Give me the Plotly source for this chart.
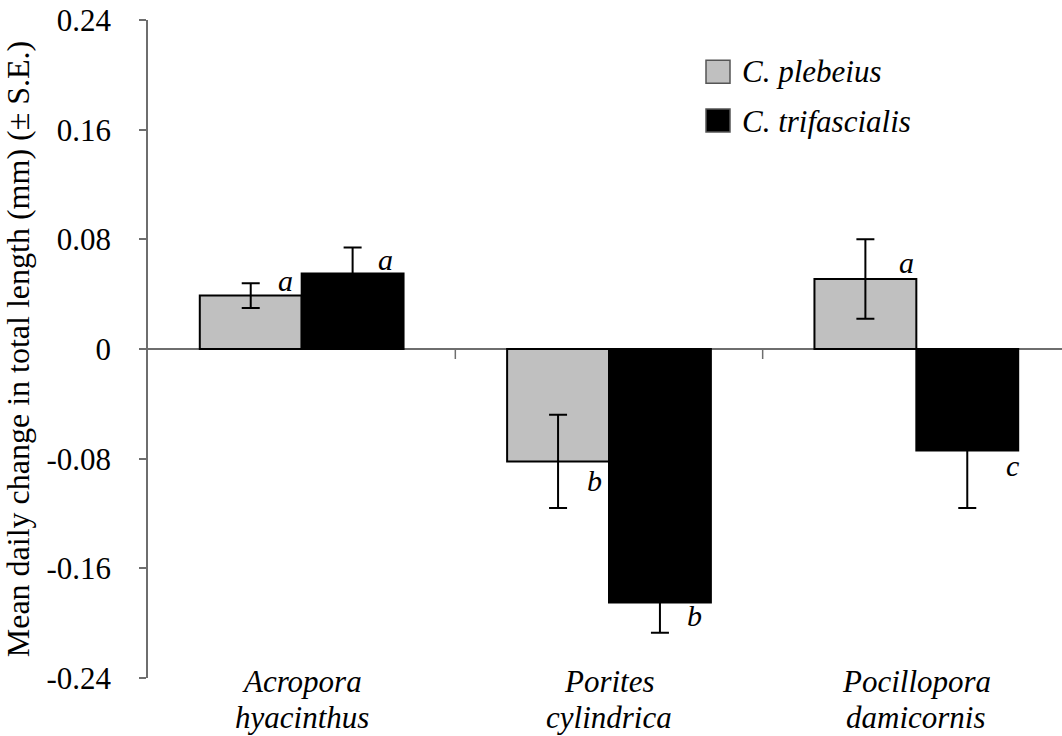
import plotly.graph_objects as go

# ---- data ----
categories = ["Acropora hyacinthus", "Porites cylindrica", "Pocillopora damicornis"]
cat_line1 = ["Acropora", "Porites", "Pocillopora"]
cat_line2 = ["hyacinthus", "cylindrica", "damicornis"]
series_names = ["C. plebeius", "C. trifascialis"]
plebeius_mean = [0.039, -0.082, 0.051]
plebeius_se = [0.009, 0.034, 0.029]
trifascialis_mean = [0.055, -0.185, -0.074]
trifascialis_se = [0.019, 0.022, 0.042]
plebeius_letters = ["a", "b", "a"]
trifascialis_letters = ["a", "b", "c"]
y_tickvals = [0.24, 0.16, 0.08, 0, -0.08, -0.16, -0.24]
y_ticktext = ["0.24", "0.16", "0.08", "0", "-0.08", "-0.16", "-0.24"]

FONT = "Liberation Serif"
AXIS_GREY = "#6e6e6e"

x_idx = list(range(len(categories)))

fig = go.Figure()
fig.add_trace(go.Bar(
    x=x_idx, y=plebeius_mean, name=series_names[0],
    marker=dict(color="#C0C0C0", line=dict(color="black", width=2)),
    error_y=dict(type="data", array=plebeius_se, symmetric=True,
                 color="black", thickness=2, width=9),
    showlegend=False,
))
fig.add_trace(go.Bar(
    x=x_idx, y=trifascialis_mean, name=series_names[1],
    marker=dict(color="black", line=dict(color="black", width=2)),
    error_y=dict(type="data", array=trifascialis_se, symmetric=True,
                 color="black", thickness=2, width=9),
    showlegend=False,
))

# significance letters (style offsets in pixels)
ple_off = [(-16, 15), (-15, -19), (-10, 17)]
tri_off = [(84, 14), (85, -13), (96, -15)]
for i in x_idx:
    for letters, means, offs in ((plebeius_letters, plebeius_mean, ple_off),
                                 (trifascialis_letters, trifascialis_mean, tri_off)):
        dx, dy = offs[i]
        fig.add_annotation(
            x=i, y=means[i], xref="x", yref="y",
            text="<i>%s</i>" % letters[i], showarrow=False,
            xshift=dx, yshift=dy, xanchor="center", yanchor="middle",
            font=dict(family=FONT, size=30, color="black"),
        )

# category labels (two lines each)
for i in x_idx:
    for line_txt, ys in ((cat_line1[i], -3), (cat_line2[i], -39)):
        fig.add_annotation(
            x=i, y=0, xref="x", yref="paper", text="<i>%s</i>" % line_txt,
            showarrow=False, xanchor="center", yanchor="middle", yshift=ys,
            font=dict(family=FONT, size=31, color="black"),
        )

# category boundary ticks on the zero line
for b in [0.5, 1.5]:
    fig.add_shape(type="line", xref="x", yref="y", x0=b, x1=b,
                  ysizemode="pixel", yanchor=0, y0=0, y1=-10,
                  line=dict(color=AXIS_GREY, width=1.5))

# manual legend
legend_colors = ["#C0C0C0", "black"]
legend_x = 0.6105
legend_tops = [0.939, 0.8647]
legend_mid = [0.9217, 0.8465]
for k in range(2):
    fig.add_shape(type="rect", xref="paper", yref="paper",
                  xsizemode="pixel", ysizemode="pixel",
                  xanchor=legend_x, yanchor=legend_tops[k],
                  x0=0, x1=24, y0=0, y1=-23,
                  fillcolor=legend_colors[k],
                  line=dict(color="#555555", width=1.5))
    fig.add_annotation(x=0.6477, y=legend_mid[k], xref="paper", yref="paper",
                       text="<i>%s</i>" % series_names[k], showarrow=False,
                       xanchor="left", yanchor="middle",
                       font=dict(family=FONT, size=31, color="black"))

fig.update_layout(
    width=1062, height=736,
    margin=dict(l=148, r=0, t=20, b=58),
    paper_bgcolor="white", plot_bgcolor="white",
    barmode="group", bargap=0.337, bargroupgap=0,
    font=dict(family=FONT, size=31, color="black"),
    xaxis=dict(
        range=[-0.5, 2.474], automargin=False,
        tickmode="array", tickvals=x_idx, showticklabels=False,
        showline=False, showgrid=False, zeroline=False, ticks="",
    ),
    yaxis=dict(
        range=[-0.24, 0.24], automargin=False,
        tickmode="array", tickvals=y_tickvals, ticktext=y_ticktext,
        showline=True, linecolor=AXIS_GREY, linewidth=1.5,
        ticks="outside", ticklen=7, tickcolor=AXIS_GREY, tickwidth=1.5,
        ticklabelstandoff=22, ticklabeloverflow="allow",
        showgrid=False,
        zeroline=True, zerolinecolor=AXIS_GREY, zerolinewidth=1.5,
        tickfont=dict(family=FONT, size=31, color="black"),
        title=dict(text="Mean daily change in total length (mm) (± S.E.)",
                   font=dict(family=FONT, size=32, color="black"), standoff=14),
    ),
)

fig.write_html("out.html",
               config={"displayModeBar": False},
               post_script="document.body.style.margin='0';")
